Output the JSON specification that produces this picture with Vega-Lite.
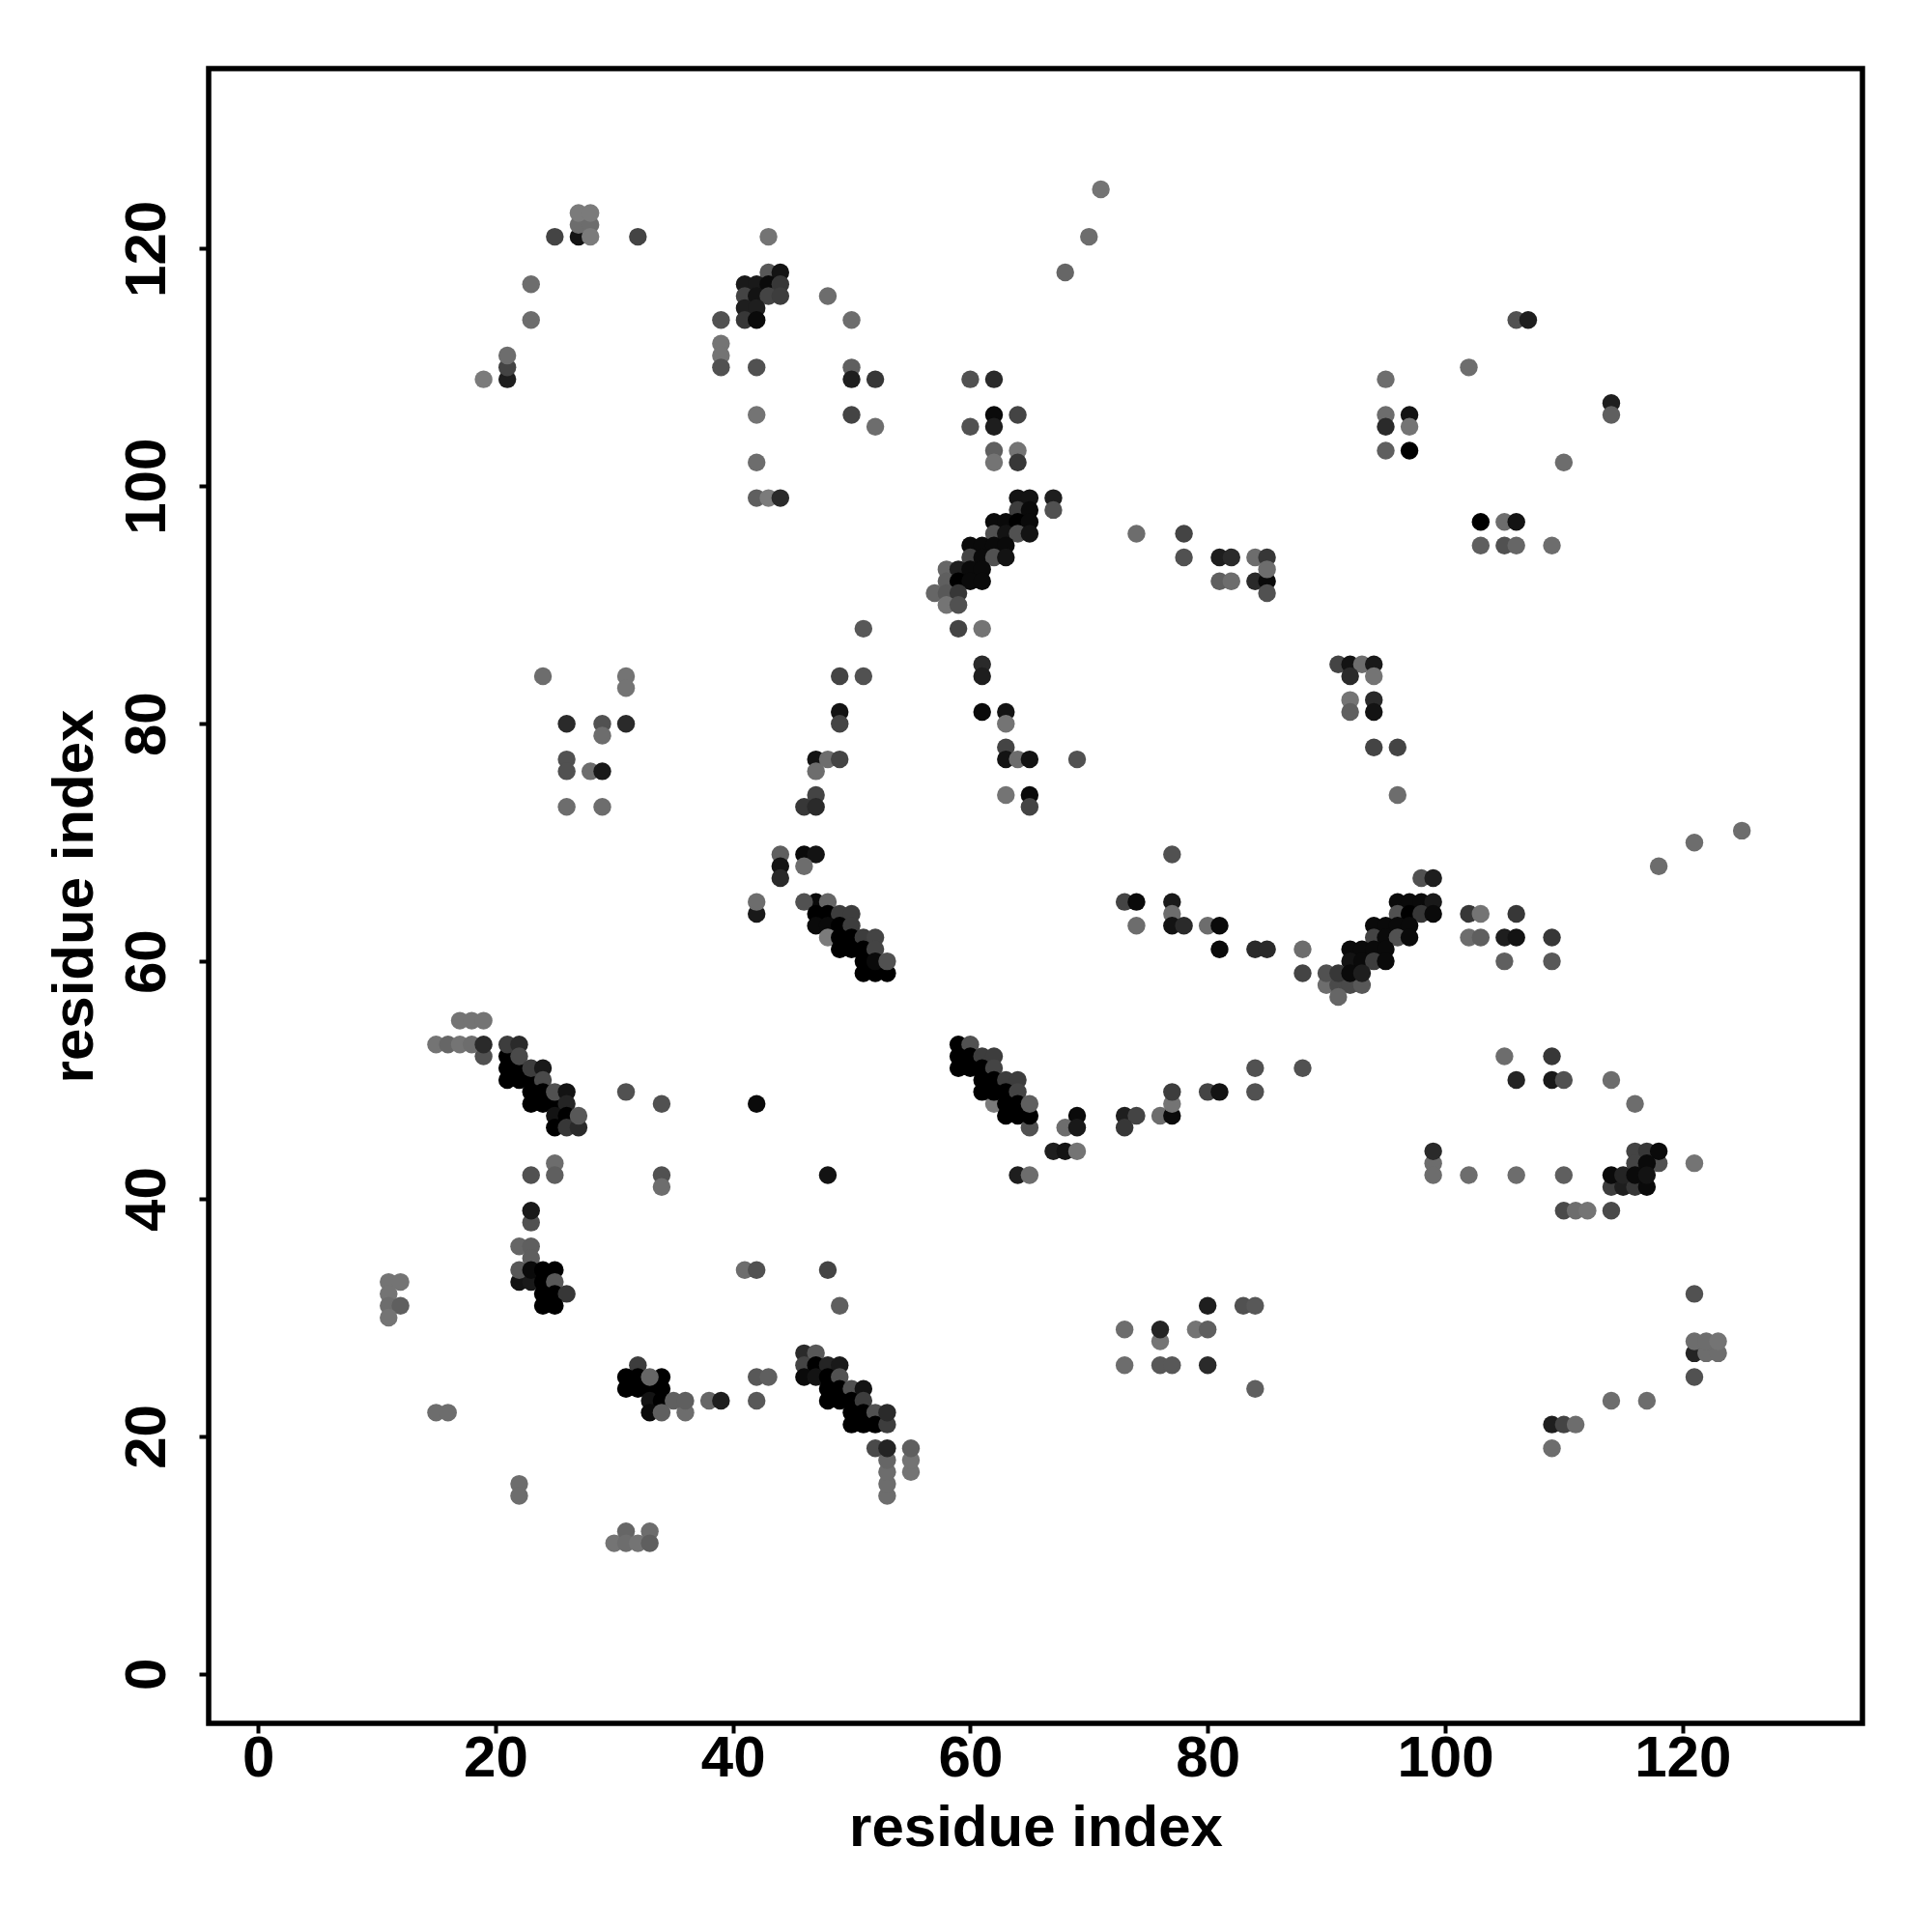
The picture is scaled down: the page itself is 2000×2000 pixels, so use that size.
{"$schema":"https://vega.github.io/schema/vega-lite/v6.json","autosize":"none","padding":{"left":216,"top":71,"right":72,"bottom":216},"width":1712,"height":1713,"background":"white","config":{"view":{"stroke":"black","strokeWidth":5.5},"axis":{"domain":false,"grid":false,"tickColor":"black","tickWidth":4,"tickSize":10,"labelColor":"black","titleColor":"black","labelFont":"Liberation Sans","titleFont":"Liberation Sans","labelFontWeight":"bold","titleFontWeight":"bold","labelFontSize":60,"titleFontSize":60,"labelOverlap":false,"labelFlush":false}},"data":{"values":[
{"x":19,"y":109,"p":0.1},{"x":21,"y":109,"p":0.8},{"x":21,"y":110,"p":0.5},{"x":21,"y":111,"p":0.2},{"x":23,"y":114,"p":0.2},{"x":23,"y":117,"p":0.2},{"x":25,"y":121,"p":0.5},{"x":27,"y":121,"p":0.9},{"x":27,"y":122,"p":0.2},{"x":28,"y":122,"p":0.2},{"x":27,"y":123,"p":0.1},{"x":28,"y":123,"p":0.1},{"x":28,"y":121,"p":0.1},{"x":32,"y":121,"p":0.5},
{"x":43,"y":118,"p":0.35},{"x":44,"y":118,"p":0.9},{"x":41,"y":117,"p":0.85},{"x":42,"y":117,"p":0.85},{"x":43,"y":117,"p":0.95},{"x":44,"y":117,"p":0.6},{"x":41,"y":116,"p":0.5},{"x":42,"y":116,"p":0.9},{"x":43,"y":116,"p":0.5},{"x":44,"y":116,"p":0.55},{"x":41,"y":115,"p":0.8},{"x":42,"y":115,"p":0.8},{"x":41,"y":114,"p":0.6},{"x":42,"y":114,"p":0.95},{"x":39,"y":114,"p":0.4},{"x":39,"y":112,"p":0.15},{"x":39,"y":111,"p":0.15},{"x":39,"y":110,"p":0.4},{"x":43,"y":121,"p":0.15},{"x":48,"y":116,"p":0.2},{"x":42,"y":110,"p":0.4},{"x":42,"y":106,"p":0.15},{"x":42,"y":102,"p":0.2},{"x":42,"y":99,"p":0.3},{"x":43,"y":99,"p":0.1},{"x":44,"y":99,"p":0.7},
{"x":50,"y":114,"p":0.2},{"x":50,"y":110,"p":0.3},{"x":50,"y":109,"p":0.8},{"x":52,"y":109,"p":0.6},{"x":50,"y":106,"p":0.5},{"x":52,"y":105,"p":0.2},{"x":60,"y":109,"p":0.4},{"x":62,"y":109,"p":0.7},{"x":62,"y":106,"p":0.95},{"x":62,"y":105,"p":0.8},{"x":60,"y":105,"p":0.4},{"x":62,"y":103,"p":0.3},{"x":62,"y":102,"p":0.15},{"x":64,"y":106,"p":0.5},{"x":64,"y":103,"p":0.15},{"x":64,"y":102,"p":0.6},{"x":68,"y":118,"p":0.25},{"x":70,"y":121,"p":0.2},{"x":71,"y":125,"p":0.15},
{"x":95,"y":109,"p":0.2},{"x":95,"y":106,"p":0.2},{"x":97,"y":106,"p":0.9},{"x":95,"y":105,"p":0.7},{"x":97,"y":105,"p":0.15},{"x":95,"y":103,"p":0.3},{"x":97,"y":103,"p":1},{"x":102,"y":110,"p":0.2},{"x":106,"y":114,"p":0.4},{"x":107,"y":114,"p":0.8},{"x":110,"y":102,"p":0.2},{"x":114,"y":107,"p":0.8},{"x":114,"y":106,"p":0.3},
{"x":64,"y":99,"p":0.9},{"x":65,"y":99,"p":0.9},{"x":67,"y":99,"p":0.8},{"x":64,"y":98,"p":0.55},{"x":65,"y":98,"p":0.95},{"x":67,"y":98,"p":0.4},{"x":62,"y":97,"p":0.95},{"x":63,"y":97,"p":0.95},{"x":64,"y":97,"p":1},{"x":65,"y":97,"p":0.95},{"x":62,"y":96,"p":0.4},{"x":63,"y":96,"p":0.9},{"x":64,"y":96,"p":0.4},{"x":65,"y":96,"p":0.9},{"x":60,"y":95,"p":0.95},{"x":61,"y":95,"p":0.95},{"x":62,"y":95,"p":0.95},{"x":63,"y":95,"p":0.95},{"x":60,"y":94,"p":0.5},{"x":61,"y":94,"p":0.95},{"x":62,"y":94,"p":0.4},{"x":63,"y":94,"p":0.9},{"x":58,"y":93,"p":0.25},{"x":59,"y":93,"p":0.8},{"x":60,"y":93,"p":0.95},{"x":61,"y":93,"p":0.95},{"x":58,"y":92,"p":0.3},{"x":59,"y":92,"p":1},{"x":60,"y":92,"p":0.95},{"x":61,"y":92,"p":0.95},{"x":57,"y":91,"p":0.25},{"x":58,"y":91,"p":0.35},{"x":59,"y":91,"p":0.6},{"x":58,"y":90,"p":0.15},{"x":59,"y":90,"p":0.4},{"x":59,"y":88,"p":0.5},{"x":61,"y":88,"p":0.15},
{"x":74,"y":96,"p":0.2},{"x":78,"y":96,"p":0.5},{"x":78,"y":94,"p":0.4},{"x":81,"y":94,"p":0.8},{"x":82,"y":94,"p":0.7},{"x":84,"y":94,"p":0.2},{"x":85,"y":94,"p":0.6},{"x":81,"y":92,"p":0.3},{"x":82,"y":92,"p":0.2},{"x":84,"y":92,"p":0.7},{"x":85,"y":92,"p":0.95},{"x":85,"y":93,"p":0.2},{"x":85,"y":91,"p":0.4},{"x":103,"y":97,"p":1},{"x":105,"y":97,"p":0.2},{"x":106,"y":97,"p":0.9},{"x":103,"y":95,"p":0.3},{"x":105,"y":95,"p":0.4},{"x":106,"y":95,"p":0.25},{"x":109,"y":95,"p":0.2},
{"x":24,"y":84,"p":0.2},{"x":31,"y":84,"p":0.15},{"x":31,"y":83,"p":0.15},{"x":26,"y":80,"p":0.7},{"x":29,"y":80,"p":0.4},{"x":31,"y":80,"p":0.7},{"x":29,"y":79,"p":0.2},{"x":26,"y":77,"p":0.4},{"x":26,"y":76,"p":0.4},{"x":28,"y":76,"p":0.2},{"x":29,"y":76,"p":0.85},{"x":26,"y":73,"p":0.2},{"x":29,"y":73,"p":0.2},
{"x":51,"y":88,"p":0.35},{"x":49,"y":84,"p":0.5},{"x":51,"y":84,"p":0.4},{"x":49,"y":81,"p":0.9},{"x":49,"y":80,"p":0.5},{"x":47,"y":77,"p":0.9},{"x":48,"y":77,"p":0.2},{"x":49,"y":77,"p":0.5},{"x":47,"y":76,"p":0.2},{"x":47,"y":74,"p":0.5},{"x":46,"y":73,"p":0.6},{"x":47,"y":73,"p":0.7},{"x":44,"y":69,"p":0.3},{"x":46,"y":69,"p":0.95},{"x":47,"y":69,"p":0.9},{"x":46,"y":68,"p":0.2},{"x":44,"y":68,"p":0.9},{"x":44,"y":67,"p":0.7},
{"x":61,"y":85,"p":0.7},{"x":61,"y":84,"p":0.8},{"x":61,"y":81,"p":0.95},{"x":63,"y":81,"p":0.9},{"x":63,"y":80,"p":0.15},{"x":63,"y":78,"p":0.5},{"x":63,"y":77,"p":0.9},{"x":64,"y":77,"p":0.2},{"x":65,"y":77,"p":0.9},{"x":69,"y":77,"p":0.4},{"x":63,"y":74,"p":0.15},{"x":65,"y":74,"p":0.95},{"x":65,"y":73,"p":0.5},
{"x":91,"y":85,"p":0.5},{"x":92,"y":85,"p":0.9},{"x":93,"y":85,"p":0.2},{"x":94,"y":85,"p":0.85},{"x":92,"y":84,"p":0.7},{"x":94,"y":84,"p":0.15},{"x":92,"y":82,"p":0.15},{"x":94,"y":82,"p":0.7},{"x":92,"y":81,"p":0.3},{"x":94,"y":81,"p":0.9},{"x":94,"y":78,"p":0.5},{"x":96,"y":78,"p":0.5},{"x":96,"y":74,"p":0.2},{"x":118,"y":68,"p":0.2},{"x":121,"y":70,"p":0.2},{"x":125,"y":71,"p":0.2},{"x":77,"y":69,"p":0.4},
{"x":47,"y":65,"p":0.95},{"x":46,"y":65,"p":0.4},{"x":48,"y":65,"p":0.25},{"x":47,"y":64,"p":1},{"x":48,"y":64,"p":1},{"x":49,"y":64,"p":0.55},{"x":50,"y":64,"p":0.55},{"x":47,"y":63,"p":0.95},{"x":48,"y":63,"p":0.95},{"x":49,"y":63,"p":1},{"x":50,"y":63,"p":0.55},{"x":48,"y":62,"p":0.1},{"x":49,"y":62,"p":1},{"x":50,"y":62,"p":1},{"x":51,"y":62,"p":0.55},{"x":52,"y":62,"p":0.5},{"x":49,"y":61,"p":1},{"x":50,"y":61,"p":1},{"x":51,"y":61,"p":1},{"x":52,"y":61,"p":0.5},{"x":51,"y":59,"p":1},{"x":52,"y":59,"p":1},{"x":53,"y":59,"p":1},{"x":51,"y":60,"p":1},{"x":52,"y":60,"p":0.95},{"x":53,"y":60,"p":0.4},{"x":42,"y":64,"p":0.85},{"x":42,"y":65,"p":0.2},
{"x":73,"y":65,"p":0.5},{"x":74,"y":65,"p":0.95},{"x":74,"y":63,"p":0.2},{"x":77,"y":65,"p":0.85},{"x":77,"y":64,"p":0.2},{"x":77,"y":63,"p":0.9},{"x":78,"y":63,"p":0.7},{"x":80,"y":63,"p":0.2},{"x":81,"y":63,"p":0.95},{"x":81,"y":61,"p":0.95},{"x":84,"y":61,"p":0.7},{"x":85,"y":61,"p":0.7},{"x":88,"y":61,"p":0.2},{"x":88,"y":59,"p":0.5},
{"x":98,"y":67,"p":0.4},{"x":99,"y":67,"p":0.8},{"x":96,"y":65,"p":0.95},{"x":97,"y":65,"p":0.95},{"x":98,"y":65,"p":0.95},{"x":99,"y":65,"p":0.85},{"x":96,"y":64,"p":0.4},{"x":97,"y":64,"p":1},{"x":98,"y":64,"p":0.6},{"x":99,"y":64,"p":0.95},{"x":94,"y":63,"p":0.95},{"x":95,"y":63,"p":0.95},{"x":96,"y":63,"p":0.95},{"x":97,"y":63,"p":0.95},{"x":94,"y":62,"p":0.5},{"x":95,"y":62,"p":0.95},{"x":96,"y":62,"p":0.4},{"x":97,"y":62,"p":0.95},{"x":92,"y":61,"p":0.95},{"x":93,"y":61,"p":0.95},{"x":94,"y":61,"p":0.95},{"x":95,"y":61,"p":0.95},{"x":92,"y":60,"p":0.9},{"x":93,"y":60,"p":0.95},{"x":94,"y":60,"p":0.55},{"x":95,"y":60,"p":0.95},{"x":90,"y":58,"p":0.2},{"x":91,"y":58,"p":0.45},{"x":92,"y":58,"p":0.45},{"x":93,"y":58,"p":0.35},{"x":91,"y":57,"p":0.25},{"x":90,"y":59,"p":0.4},{"x":91,"y":59,"p":0.6},{"x":92,"y":59,"p":0.95},{"x":93,"y":59,"p":0.8},
{"x":102,"y":64,"p":0.6},{"x":103,"y":64,"p":0.15},{"x":102,"y":62,"p":0.2},{"x":103,"y":62,"p":0.3},{"x":105,"y":62,"p":0.8},{"x":106,"y":62,"p":0.9},{"x":106,"y":64,"p":0.6},{"x":105,"y":60,"p":0.3},{"x":109,"y":62,"p":0.6},{"x":109,"y":60,"p":0.35},
{"x":17,"y":55,"p":0.15},{"x":18,"y":55,"p":0.15},{"x":19,"y":55,"p":0.15},{"x":19,"y":52,"p":0.4},{"x":15,"y":53,"p":0.15},{"x":16,"y":53,"p":0.25},{"x":17,"y":53,"p":0.15},{"x":18,"y":53,"p":0.2},{"x":19,"y":53,"p":0.7},{"x":21,"y":52,"p":1},{"x":21,"y":51,"p":1},{"x":22,"y":51,"p":1},{"x":21,"y":50,"p":1},{"x":22,"y":50,"p":1},{"x":23,"y":50,"p":1},{"x":21,"y":53,"p":0.55},{"x":22,"y":53,"p":0.7},{"x":22,"y":52,"p":0.45},{"x":23,"y":51,"p":0.55},{"x":24,"y":51,"p":0.85},{"x":24,"y":50,"p":0.45},{"x":23,"y":49,"p":1},{"x":24,"y":49,"p":1},{"x":23,"y":48,"p":1},{"x":24,"y":48,"p":1},{"x":25,"y":48,"p":1},{"x":25,"y":49,"p":0.4},{"x":26,"y":49,"p":0.9},{"x":26,"y":48,"p":0.75},{"x":25,"y":47,"p":0.9},{"x":26,"y":47,"p":1},{"x":25,"y":46,"p":1},{"x":26,"y":46,"p":0.6},{"x":27,"y":46,"p":0.7},{"x":27,"y":47,"p":0.35},{"x":25,"y":43,"p":0.2},{"x":23,"y":42,"p":0.4},{"x":25,"y":42,"p":0.3},{"x":23,"y":38,"p":0.4},{"x":23,"y":39,"p":0.85},{"x":31,"y":49,"p":0.4},{"x":34,"y":48,"p":0.4},{"x":34,"y":42,"p":0.4},{"x":34,"y":41,"p":0.2},{"x":42,"y":48,"p":0.95},{"x":48,"y":42,"p":0.9},
{"x":22,"y":36,"p":0.25},{"x":23,"y":36,"p":0.3},{"x":23,"y":35,"p":0.3},{"x":22,"y":33,"p":0.9},{"x":23,"y":33,"p":0.85},{"x":22,"y":34,"p":0.35},{"x":23,"y":34,"p":0.95},{"x":24,"y":34,"p":1},{"x":25,"y":34,"p":1},{"x":24,"y":33,"p":1},{"x":25,"y":33,"p":0.35},{"x":24,"y":32,"p":1},{"x":25,"y":32,"p":1},{"x":26,"y":32,"p":0.6},{"x":24,"y":31,"p":1},{"x":25,"y":31,"p":1},
{"x":32,"y":26,"p":0.55},{"x":31,"y":25,"p":1},{"x":32,"y":25,"p":1},{"x":34,"y":25,"p":1},{"x":31,"y":24,"p":1},{"x":32,"y":24,"p":1},{"x":33,"y":24,"p":1},{"x":34,"y":24,"p":1},{"x":33,"y":25,"p":0.25},{"x":33,"y":23,"p":0.9},{"x":34,"y":23,"p":1},{"x":33,"y":22,"p":0.95},{"x":34,"y":22,"p":0.3},{"x":36,"y":22,"p":0.2},{"x":35,"y":23,"p":0.3},{"x":36,"y":23,"p":0.3},{"x":38,"y":23,"p":0.25},{"x":39,"y":23,"p":0.8},
{"x":11,"y":33,"p":0.15},{"x":12,"y":33,"p":0.15},{"x":11,"y":32,"p":0.15},{"x":11,"y":31,"p":0.2},{"x":12,"y":31,"p":0.3},{"x":11,"y":30,"p":0.15},{"x":15,"y":22,"p":0.2},{"x":16,"y":22,"p":0.2},{"x":22,"y":16,"p":0.2},{"x":22,"y":15,"p":0.2},{"x":30,"y":11,"p":0.15},{"x":31,"y":12,"p":0.25},{"x":31,"y":11,"p":0.2},{"x":32,"y":11,"p":0.15},{"x":33,"y":12,"p":0.2},{"x":33,"y":11,"p":0.3},
{"x":41,"y":34,"p":0.2},{"x":42,"y":34,"p":0.4},{"x":48,"y":34,"p":0.5},{"x":49,"y":31,"p":0.3},{"x":42,"y":25,"p":0.35},{"x":43,"y":25,"p":0.3},{"x":42,"y":23,"p":0.35},
{"x":46,"y":27,"p":0.7},{"x":47,"y":27,"p":0.35},{"x":46,"y":26,"p":0.5},{"x":47,"y":26,"p":1},{"x":48,"y":26,"p":0.75},{"x":49,"y":26,"p":0.85},{"x":46,"y":25,"p":0.95},{"x":47,"y":25,"p":0.9},{"x":48,"y":25,"p":1},{"x":49,"y":25,"p":0.4},{"x":48,"y":24,"p":1},{"x":49,"y":24,"p":1},{"x":50,"y":24,"p":0.4},{"x":51,"y":24,"p":0.9},{"x":48,"y":23,"p":1},{"x":49,"y":23,"p":1},{"x":50,"y":23,"p":1},{"x":51,"y":23,"p":0.55},{"x":50,"y":22,"p":1},{"x":51,"y":22,"p":1},{"x":52,"y":22,"p":0.4},{"x":50,"y":21,"p":1},{"x":51,"y":21,"p":1},{"x":52,"y":21,"p":1},{"x":53,"y":21,"p":0.55},{"x":53,"y":22,"p":0.7},{"x":53,"y":15,"p":0.2},{"x":53,"y":16,"p":0.2},{"x":53,"y":17,"p":0.2},{"x":53,"y":18,"p":0.25},{"x":52,"y":19,"p":0.45},{"x":53,"y":19,"p":0.75},{"x":55,"y":17,"p":0.15},{"x":55,"y":18,"p":0.15},{"x":55,"y":19,"p":0.3},
{"x":59,"y":53,"p":1},{"x":60,"y":53,"p":0.4},{"x":59,"y":52,"p":1},{"x":60,"y":52,"p":1},{"x":61,"y":52,"p":0.55},{"x":62,"y":52,"p":0.55},{"x":59,"y":51,"p":1},{"x":60,"y":51,"p":1},{"x":61,"y":51,"p":1},{"x":62,"y":51,"p":0.5},{"x":61,"y":50,"p":1},{"x":62,"y":50,"p":1},{"x":63,"y":50,"p":0.55},{"x":64,"y":50,"p":0.55},{"x":62,"y":48,"p":0.1},{"x":61,"y":49,"p":1},{"x":62,"y":49,"p":1},{"x":63,"y":49,"p":1},{"x":64,"y":49,"p":0.5},{"x":63,"y":48,"p":1},{"x":64,"y":48,"p":1},{"x":63,"y":47,"p":1},{"x":64,"y":47,"p":1},{"x":65,"y":46,"p":0.4},{"x":65,"y":47,"p":1},{"x":65,"y":48,"p":0.3},{"x":69,"y":47,"p":0.95},{"x":73,"y":47,"p":0.8},{"x":74,"y":47,"p":0.5},{"x":68,"y":46,"p":0.2},{"x":69,"y":46,"p":0.85},{"x":73,"y":46,"p":0.6},{"x":67,"y":44,"p":0.8},{"x":68,"y":44,"p":0.9},{"x":69,"y":44,"p":0.15},{"x":64,"y":42,"p":0.8},{"x":65,"y":42,"p":0.2},{"x":76,"y":47,"p":0.2},{"x":77,"y":47,"p":0.95},{"x":77,"y":48,"p":0.15},{"x":77,"y":49,"p":0.55},{"x":80,"y":49,"p":0.5},{"x":81,"y":49,"p":0.9},{"x":84,"y":51,"p":0.4},{"x":84,"y":49,"p":0.4},{"x":88,"y":51,"p":0.4},
{"x":99,"y":43,"p":0.2},{"x":99,"y":42,"p":0.2},{"x":99,"y":44,"p":0.7},{"x":102,"y":42,"p":0.2},{"x":106,"y":42,"p":0.2},{"x":110,"y":42,"p":0.3},{"x":105,"y":52,"p":0.2},{"x":106,"y":50,"p":0.75},{"x":109,"y":52,"p":0.6},{"x":109,"y":50,"p":0.85},{"x":110,"y":50,"p":0.4},{"x":114,"y":50,"p":0.2},{"x":116,"y":48,"p":0.2},
{"x":116,"y":44,"p":0.5},{"x":117,"y":44,"p":0.6},{"x":118,"y":43,"p":0.4},{"x":118,"y":44,"p":0.95},{"x":116,"y":43,"p":0.5},{"x":117,"y":43,"p":0.95},{"x":121,"y":43,"p":0.15},{"x":114,"y":41,"p":0.55},{"x":115,"y":41,"p":0.8},{"x":116,"y":41,"p":0.6},{"x":117,"y":41,"p":0.95},{"x":114,"y":42,"p":0.95},{"x":115,"y":42,"p":0.75},{"x":116,"y":42,"p":0.95},{"x":117,"y":42,"p":0.9},{"x":110,"y":39,"p":0.45},{"x":111,"y":39,"p":0.2},{"x":112,"y":39,"p":0.15},{"x":114,"y":39,"p":0.45},
{"x":73,"y":29,"p":0.2},{"x":73,"y":26,"p":0.2},{"x":76,"y":28,"p":0.15},{"x":76,"y":29,"p":0.75},{"x":76,"y":26,"p":0.35},{"x":77,"y":26,"p":0.35},{"x":79,"y":29,"p":0.15},{"x":80,"y":29,"p":0.3},{"x":80,"y":31,"p":0.8},{"x":80,"y":26,"p":0.7},{"x":83,"y":31,"p":0.4},{"x":84,"y":31,"p":0.35},{"x":84,"y":24,"p":0.3},
{"x":121,"y":32,"p":0.4},{"x":121,"y":27,"p":0.75},{"x":122,"y":27,"p":0.2},{"x":123,"y":27,"p":0.2},{"x":121,"y":28,"p":0.2},{"x":122,"y":28,"p":0.2},{"x":123,"y":28,"p":0.15},{"x":121,"y":25,"p":0.4},{"x":109,"y":21,"p":0.8},{"x":110,"y":21,"p":0.5},{"x":111,"y":21,"p":0.2},{"x":109,"y":19,"p":0.2},{"x":114,"y":23,"p":0.2},{"x":117,"y":23,"p":0.2}
]},"mark":{"type":"point","shape":"circle","filled":true,"opacity":1,"strokeWidth":0,"clip":true},"encoding":{"x":{"field":"x","type":"quantitative","scale":{"domain":[-4.16,135.16],"nice":false,"zero":false},"axis":{"values":[0,20,40,60,80,100,120],"title":"residue index","labelPadding":-3,"titlePadding":13}},"y":{"field":"y","type":"quantitative","scale":{"domain":[-4.16,135.16],"nice":false,"zero":false},"axis":{"values":[0,20,40,60,80,100,120],"title":"residue index","labelAngle":-90,"labelAlign":"center","labelBaseline":"alphabetic","labelPadding":36,"titlePadding":14}},"color":{"field":"p","type":"quantitative","scale":{"domain":[0,1],"range":["#8a8a8a","#000000"]},"legend":null},"size":{"value":340}}}
